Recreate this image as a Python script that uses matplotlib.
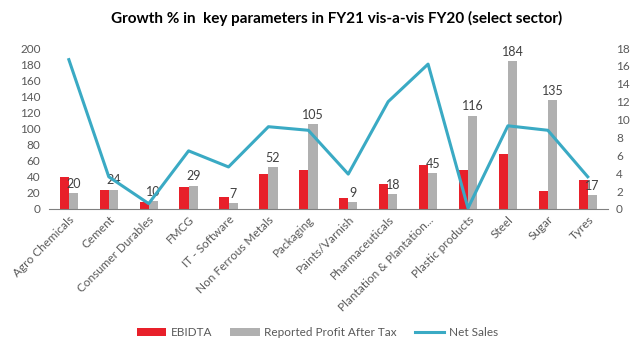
import numpy as np
import matplotlib.pyplot as plt

sectors = ['Agro Chemicals', 'Cement', 'Consumer Durables', 'FMCG', 'IT - Software',
           'Non Ferrous Metals', 'Packaging', 'Paints/Varnish', 'Pharmaceuticals',
           'Plantation & Plantation...', 'Plastic products', 'Steel', 'Sugar', 'Tyres']
ebidta = [40, 24, 9, 27, 15, 43, 48, 14, 31, 55, 48, 68, 22, 36]
pat = [20, 24, 10, 29, 7, 52, 105, 9, 18, 45, 116, 184, 135, 17]
net_sales = [16.7, 3.6, 0.6, 6.5, 4.7, 9.2, 8.8, 3.9, 12.0, 16.2, 0.1, 9.3, 8.8, 3.6]

plt.rcParams['font.family'] = ['Lato', 'DejaVu Sans']

fig = plt.figure(figsize=(6.35, 3.53), dpi=100)
ax = fig.add_axes([0.077, 0.408, 0.88, 0.456])
x = np.arange(len(sectors))
w = 0.23

b1 = ax.bar(x - w / 2, ebidta, w, color='#E8202A', label='EBIDTA')
b2 = ax.bar(x + w / 2, pat, w, color='#B0B0B0', label='Reported Profit After Tax')
for xi, v in zip(x, pat):
    ax.text(xi + w / 2, v + 4, str(v), ha='center', va='bottom', fontsize=9, color='#404040')

ax.set_xlim(-0.5, len(sectors) - 0.5)
ax.set_ylim(0, 200)
ax.set_yticks(range(0, 201, 20))
ax.set_xticks(x)
ax.set_xticklabels(sectors, rotation=45, ha='right', rotation_mode='anchor', fontsize=8.5, color='#595959')
for s in ['top', 'right', 'left']:
    ax.spines[s].set_visible(False)
ax.spines['bottom'].set_color('#808080')
ax.tick_params(axis='both', length=0, labelsize=8.5, labelcolor='#595959')
ax.tick_params(axis='y', pad=6)

ax2 = ax.twinx()
l1, = ax2.plot(x, net_sales, color='#3AAAC4', lw=2.2, label='Net Sales')
ax2.set_ylim(0, 18)
ax2.set_yticks(range(0, 19, 2))
for s in ['top', 'right', 'left', 'bottom']:
    ax2.spines[s].set_visible(False)
ax2.tick_params(axis='y', length=0, labelsize=8.5, labelcolor='#595959', pad=6)

fig.text(0.53, 0.935, 'Growth % in  key parameters in FY21 vis-a-vis FY20 (select sector)',
         ha='center', fontsize=11, fontweight='bold', color='#000000')
fig.legend(handles=[b1, b2, l1], loc='center', bbox_to_anchor=(0.5, 0.057), ncol=3,
           frameon=False, fontsize=8.5, labelcolor='#595959', handlelength=2.5,
           columnspacing=1.5, handletextpad=0.4)

fig.savefig('out.png', dpi=100)
